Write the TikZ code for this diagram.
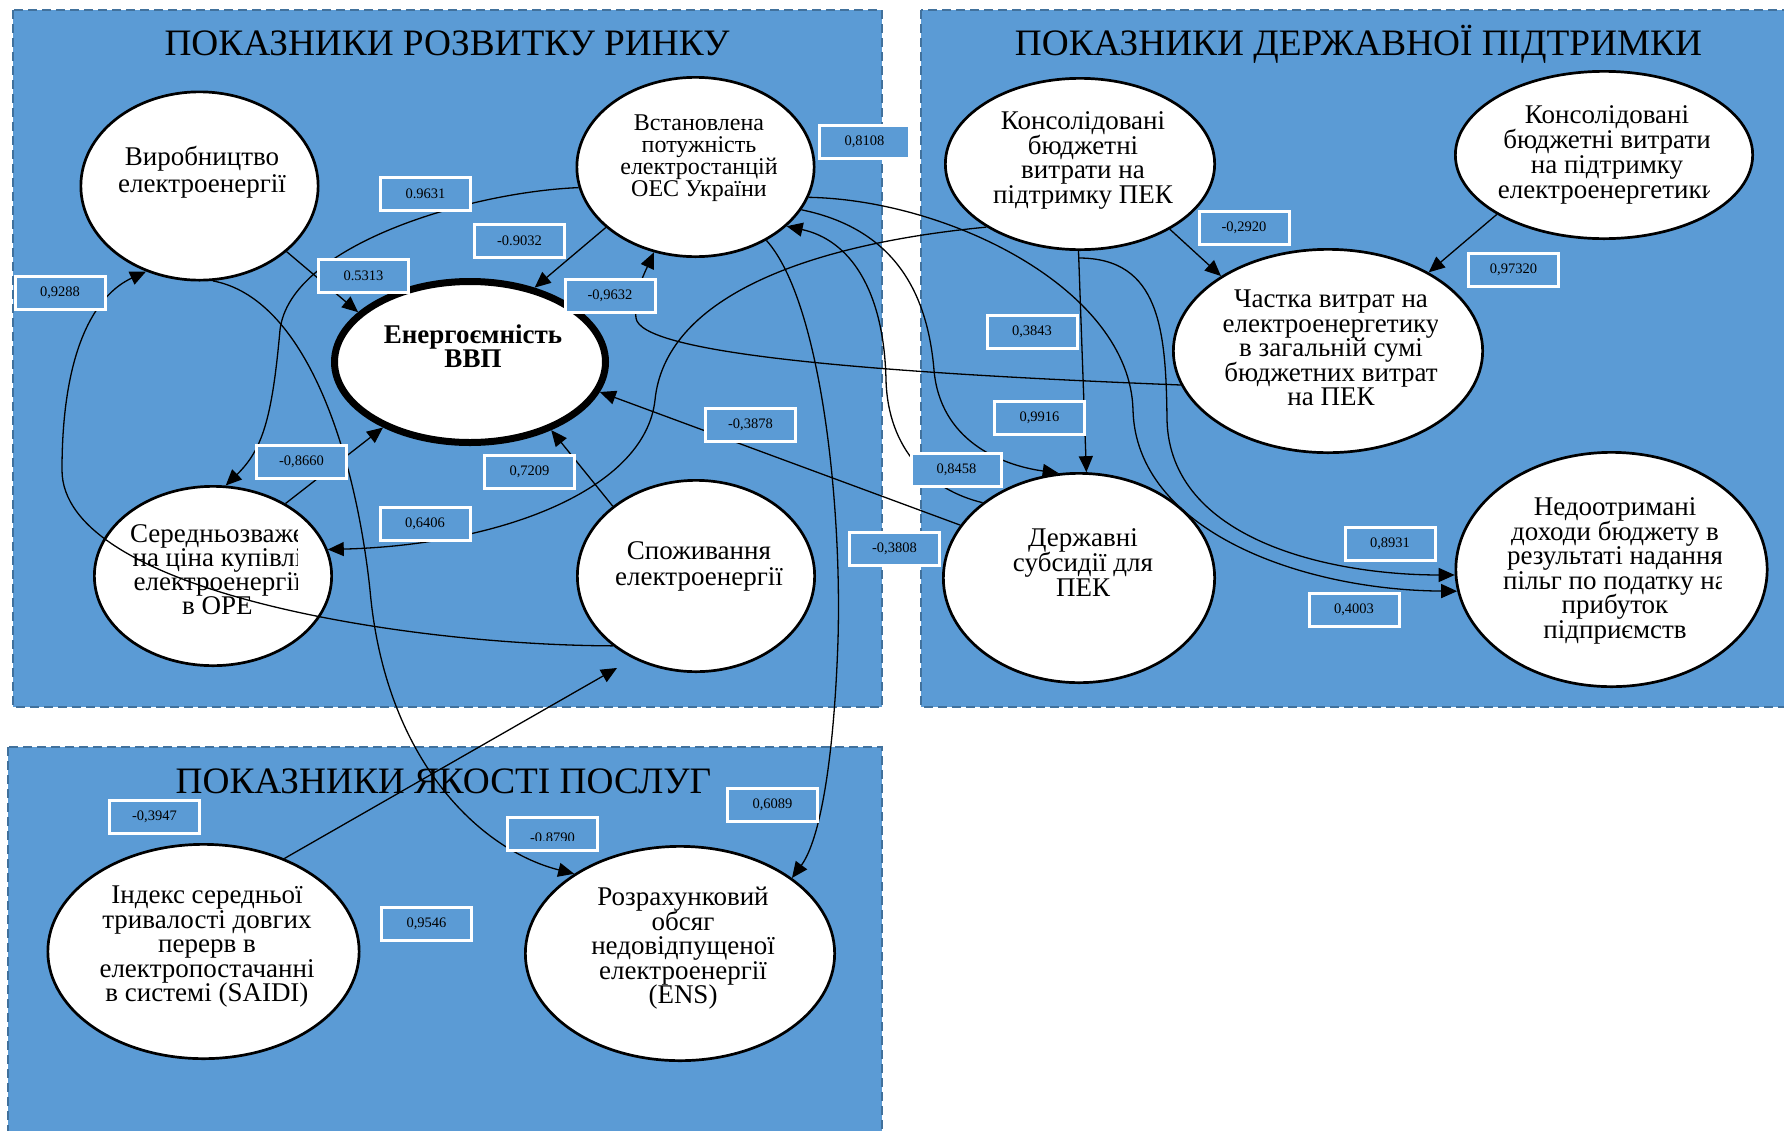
\documentclass[tikz,border=0pt]{standalone}
\usepackage{fontspec}
\setmainfont{Liberation Serif}
\usetikzlibrary{shapes.geometric,arrows.meta}
\definecolor{panelblue}{HTML}{5B9BD5}
\definecolor{paneledge}{HTML}{41719C}
% font size / leading with fixed baselines
\newcommand\nfont[2]{\fontsize{#1}{#2}\selectfont\lineskiplimit=-60pt\relax}
% struts that fix the height of the first line and the depth of the last one
\newcommand\topst{\rule{0pt}{24pt}}
\newcommand\botst{\rule[-8pt]{0pt}{8pt}}
\begin{document}
\begin{tikzpicture}[x=1pt,y=-1pt,
  panel/.style={fill=panelblue,draw=paneledge,line width=2.5pt,dash pattern=on 9pt off 5pt},
  ptitle/.style={inner sep=0pt,font=\nfont{37.3}{40}},
  bub/.style={ellipse,draw=black,line width=2.7pt,fill=white,inner sep=0pt},
  txt/.style={align=center,inner sep=0pt},
  arr/.style={line width=1.3pt,-{Triangle[length=16pt,width=14pt]}},
  val/.style={draw=white,line width=3pt,fill=panelblue,minimum width=90pt,minimum height=33pt,inner sep=0pt,font=\nfont{14.5}{16}}]
\useasboundingbox (0,0) rectangle (1784,1130);

% ---------- panels ----------
\path[panel] (13,10) rectangle (882,707);
\path[panel] (921,10) rectangle (1800,707);
\path[panel] (8,747) rectangle (882,1145);

\node[ptitle,anchor=base] (t1) at (447,55) {ПОКАЗНИКИ РОЗВИТКУ РИНКУ};
\node[ptitle,anchor=base] (t2) at (1358.5,55) {ПОКАЗНИКИ ДЕРЖАВНОЇ ПІДТРИМКИ};
\node[ptitle,anchor=base] (t3) at (443.5,793) {ПОКАЗНИКИ ЯКОСТІ ПОСЛУГ};

% ---------- indicators ----------
\node[bub,minimum width=237.3pt,minimum height=188.3pt] (vyr) at (199.5,186) {};
\node[bub,minimum width=237.3pt,minimum height=179.3pt] (vst) at (695.5,167) {};
\node[bub,line width=7pt,minimum width=271pt,minimum height=161pt] (en) at (470,362) {};
\node[bub,minimum width=237.3pt,minimum height=179.3pt] (ser) at (213,576) {};
\node[bub,minimum width=237.3pt,minimum height=191.3pt] (spo) at (696,576) {};
\node[bub,minimum width=269.3pt,minimum height=171.3pt] (kpek) at (1080,164) {};
\node[bub,minimum width=297.3pt,minimum height=167.3pt] (kel) at (1604,155) {};
\node[bub,minimum width=309.3pt,minimum height=203.3pt] (cha) at (1328,351) {};
\node[bub,minimum width=271.3pt,minimum height=209.3pt] (der) at (1079,578) {};
\node[bub,minimum width=311.3pt,minimum height=234.3pt] (ned) at (1611.5,569.5) {};
\node[bub,minimum width=311.3pt,minimum height=214.3pt] (ind) at (203.5,951.5) {};
\node[bub,minimum width=309.3pt,minimum height=214.3pt] (ens) at (680,953.5) {};

% ---------- indicator texts ----------
\node[txt,font=\nfont{27}{26.5}] (vyrt) at (202,170.75) {\topst Виробництво\\електроенергії\botst};
\node[txt,font=\nfont{24}{22}] (vstt) at (699,155.5) {\topst Встановлена\\потужність\\електростанцій\\ОЕС України\botst};
\node[txt,font=\nfont{27}{24}\bfseries] (ent) at (473,347.5) {\topst Енергоємність\\ВВП\botst};
\node[txt,font=\nfont{27}{26}] (spot) at (699,564.5) {\topst Споживання\\електроенергії\botst};
\begin{scope}
  \clip (0,400) rectangle (297.5,700);
  \node[txt,font=\nfont{27}{24}] (sert) at (217.5,570) {\topst Середньозваже\\на ціна купівлі\\електроенергії\\в ОРЕ\botst};
\end{scope}
\node[txt,font=\nfont{27}{24.7}] (kpekt) at (1083,158.5) {\topst Консолідовані\\бюджетні\\витрати на\\підтримку ПЕК\botst};
\begin{scope}
  \clip (1400,60) rectangle (1709,240);
  \node[txt,font=\nfont{27}{25}] (kelt) at (1607,153) {\topst Консолідовані\\бюджетні витрати\\на підтримку\\електроенергетики\botst};
\end{scope}
\begin{scope}
  \clip (1150,270) rectangle (1437,430);
  \node[txt,font=\nfont{27}{24.5}] (chat) at (1331,348.5) {\topst Частка витрат на\\електроенергетику\\в загальній сумі\\бюджетних витрат\\на ПЕК\botst};
\end{scope}
\node[txt,font=\nfont{27}{25}] (dert) at (1083,563.5) {\topst Державні\\субсидії для\\ПЕК\botst};
\begin{scope}
  \clip (1450,480) rectangle (1721.5,660);
  \node[txt,font=\nfont{27}{24.6}] (nedt) at (1615,569) {\topst Недоотримані\\доходи бюджету в\\результаті надання\\пільг по податку на\\прибуток\\підприємств\botst};
\end{scope}
\node[txt,font=\nfont{27}{24.5}] (indt) at (207,944.5) {\topst Індекс середньої\\тривалості довгих\\перерв в\\електропостачанні\\в системі (SAIDI)\botst};
\node[txt,font=\nfont{27}{24.5}] (enst) at (683,946.5) {\topst Розрахунковий\\обсяг\\недовідпущеної\\електроенергії\\(ENS)\botst};

% ---------- links ----------
\draw[arr] (vyr.-37) -- (en.156);
\draw[arr] (vst.214) -- (en.49);
\draw[arr] (cha.193) .. controls (850,372) and (640,352) .. (636,318) .. controls (633,295) and (645,272) .. (vst.244);
\draw[arr] (vst.190) .. controls (470,192) and (290,245) .. (280,330) .. controls (272,420) and (262,450) .. (ser.82);
\draw[arr] (spo.220) .. controls (400,645) and (62,590) .. (62,470) .. controls (62,350) and (95,295) .. (vyr.238);
\draw[arr] (ser.45) -- (en.217);
\draw[arr] (spo.140) -- (en.-40.5);
\draw[arr] (der.156) -- (en.-13);
\draw[arr] (kpek.214) .. controls (800,245) and (665,300) .. (655,400) .. controls (645,490) and (500,545) .. (ser.13);
\draw[arr] (vst.-15) .. controls (950,200) and (1130,290) .. (1133,410) .. controls (1136,530) and (1300,590) .. (ned.188);
\draw[arr] ([yshift=-7pt]kpek.-91) .. controls (1160,258) and (1166,330) .. (1167,420) .. controls (1170,540) and (1330,575) .. (ned.182);
\draw[arr] (kpek.-91) -- (der.86);
\draw[arr] (vst.-22) .. controls (900,230) and (928,300) .. (934,370) .. controls (940,440) and (1000,465) .. (der.101);
\draw[arr] (der.142) .. controls (930,490) and (888,450) .. (886,380) .. controls (884,290) and (850,240) .. (vst.-33);
\draw[arr] (vst.-46) .. controls (820,300) and (842,500) .. (838,640) .. controls (834,760) and (820,840) .. (ens.34);
\draw[arr] (vyr.-82) .. controls (305,298) and (355,450) .. (370,590) .. controls (385,760) and (480,850) .. (ens.143);
\draw[arr] (ind.49) -- ([xshift=-11.6pt,yshift=-11.7pt]spo.230);
\draw[arr] (kpek.-36.5) -- (cha.145);
\draw[arr] (kel.209) -- (cha.38.5);

% ---------- coefficients ----------
\node[val] (c01) at (425.5,194) {0.9631};
\node[val] (c02) at (519.5,240.5) {-0.9032};
\node[val] (c03) at (363.5,276) {0.5313};
\node[val] (c04) at (610,296) {-0,9632};
\node[val] (c05) at (301.5,461.5) {-0,8660};
\node[val] (c06) at (529.5,472) {0,7209};
\node[val] (c07) at (864.5,141.5) {0,8108};
\node[val] (c08) at (60,292.5) {0,9288};
\node[val] (c09) at (750.5,425) {-0,3878};
\node[val] (c10) at (425,523.5) {0,6406};
\node[val] (c11) at (894.5,549) {-0,3808};
\node[val] (c12) at (956.5,470) {0,8458};
\node[val] (c13) at (1032,332) {0,3843};
\node[val] (c14) at (1039.5,417.5) {0,9916};
\node[val] (c15) at (1244,228) {-0,2920};
\node[val] (c16) at (1513.5,270) {0,97320};
\node[val] (c17) at (1390,544) {0,8931};
\node[val] (c18) at (1354,610) {0,4003};
\node[val] (c19) at (154.5,817) {-0,3947};
\node[val] (c20) at (552.5,834) {};
\begin{scope}
  \clip (500,800) rectangle (610,840.5);
  \node[inner sep=0pt,font=\nfont{14.5}{16}] (c20t) at (552.5,838) {-0.8790};
\end{scope}
\node[val] (c21) at (772.5,805) {0,6089};
\node[val] (c22) at (426.5,924) {0,9546};
\end{tikzpicture}
\end{document}
